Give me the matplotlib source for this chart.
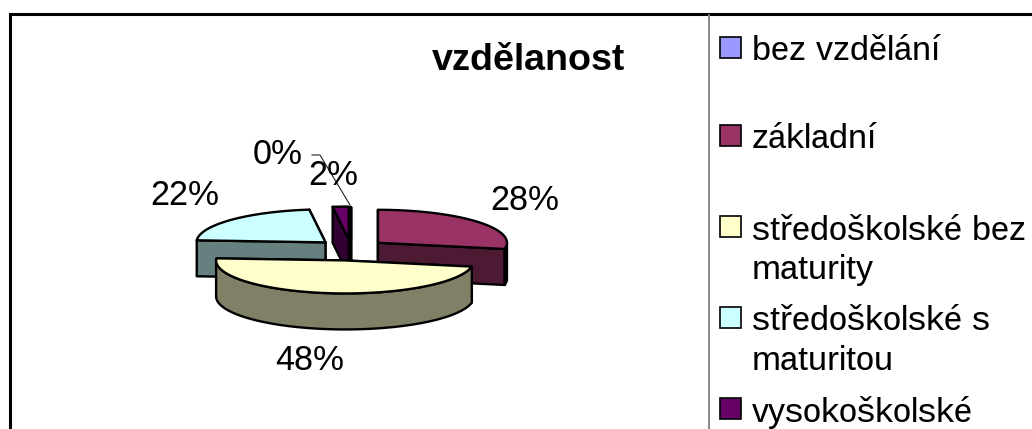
import numpy as np
import matplotlib
matplotlib.use("Agg")
import matplotlib.pyplot as plt
from matplotlib.patches import Polygon, Rectangle

plt.rcParams['font.family'] = ['Liberation Sans', 'DejaVu Sans']
plt.rcParams['text.hinting'] = 'native'
plt.rcParams['text.hinting_factor'] = 1
plt.rcParams['text.kerning_factor'] = 6

title = "vzdělanost"
categories = ["bez vzdělání", "základní", "středoškolské bez\nmaturity",
              "středoškolské s\nmaturitou", "vysokoškolské"]
values = [0.2, 28, 48, 22, 2]
colors = ["#9999FF", "#993366", "#FFFFCC", "#CCFFFF", "#660066"]
shades = ["#4D4D80", "#4D1A33", "#808066", "#668080", "#330033"]

# layout (pixels)
W, H = 1032, 429
CX, CY = 351, 248.5
RX, RY, DEPTH = 129, 33, 36
explode = [35, 35, 47, 35, 35]
draw_order = [0, 4, 3, 1, 2]
label_pos = {0: (278, 155), 4: (333, 176), 1: (525, 201), 2: (310, 361), 3: (185, 196)}
legend_y = [47, 135, 226, 317, 408]

fig = plt.figure(figsize=(W / 100, H / 100), dpi=100)
ax = fig.add_axes([0, 0, 1, 1])
ax.set_xlim(0, W)
ax.set_ylim(H, 0)
ax.axis("off")

# chart frame and legend separator
ax.plot([9.5, 9.5, W], [H, 14, 14], color="black", lw=2.2, solid_joinstyle="miter")
ax.plot([708.5, 708.5], [15, H], color="#808080", lw=1.3)

ax.text(528.5, 60, title, fontsize=26.5, fontweight="bold", ha="center", va="center")

total = sum(values)
shown = np.array(values) / total * 360
shown[0] = 0
shown = shown / shown.sum() * 360
ends = np.cumsum(shown)
starts = ends - shown


def rim(a, cx, cy):
    t = np.radians(a)
    return cx + RX * np.sin(t), cy - RY * np.cos(t)


def poly(pts, fc):
    ax.add_patch(Polygon(pts, closed=True, fc=fc, ec="black", lw=1.7, joinstyle="round"))


for i in draw_order:
    a1, a2 = starts[i], ends[i]
    mid = np.radians((a1 + a2) / 2)
    cx = CX + explode[i] * np.sin(mid)
    cy = CY - explode[i] * np.cos(mid) * 0.256
    # radial cut faces, rear one first
    faces = sorted([a1, a2], key=lambda a: rim(a, cx, cy)[1])
    for a in faces:
        x, y = rim(a, cx, cy)
        poly([(cx, cy), (x, y), (x, y + DEPTH), (cx, cy + DEPTH)], shades[i])
    # outer wall (front half of the ellipse only)
    lo, hi = max(a1, 90), min(a2, 270)
    if hi > lo:
        aa = np.linspace(lo, hi, 80)
        xs, ys = rim(aa, cx, cy)
        top = np.column_stack([xs, ys])
        bot = np.column_stack([xs, ys + DEPTH])[::-1]
        poly(np.vstack([top, bot]), shades[i])
    # top face
    aa = np.linspace(a1, a2, 120)
    xs, ys = rim(aa, cx, cy)
    poly(np.vstack([[(cx, cy)], np.column_stack([xs, ys])]), colors[i])

# leader line of the smallest slice
ax.plot([312, 320, 350], [155, 155, 205], color="#222222", lw=0.8)

for i, v in enumerate(values):
    x, y = label_pos[i]
    ax.text(x, y, f"{v / total * 100:.0f}%", fontsize=25.5, ha="center", va="center", color="black")

for name, c, ym in zip(categories, colors, legend_y):
    ax.add_patch(Rectangle((720, ym - 10.5), 21, 21, fc=c, ec="black", lw=1.2))
    for k, part in enumerate(name.split("\n")):
        ax.text(752, ym + 1 + k * 40, part, fontsize=25, ha="left", va="center_baseline", clip_on=True)

fig.savefig("out.png", dpi=100)
